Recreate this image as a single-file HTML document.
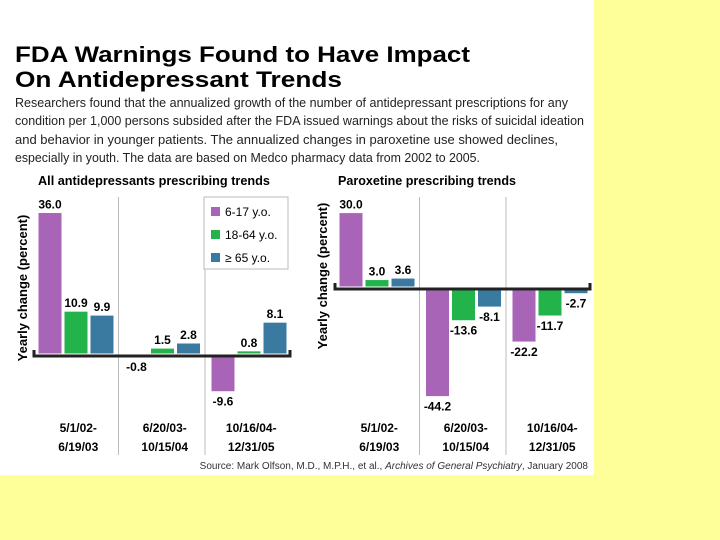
<!DOCTYPE html>
<html><head><meta charset="utf-8"><style>
html,body{margin:0;padding:0;background:#ffff99;width:720px;height:540px;overflow:hidden}
svg{display:block;font-family:"Liberation Sans",sans-serif}
</style></head><body>
<svg id="s" width="720" height="540" xmlns="http://www.w3.org/2000/svg">
<rect x="0" y="0" width="594" height="475" fill="#fff"/>
<text x="15" y="62" font-size="22" font-weight="bold" textLength="455" lengthAdjust="spacingAndGlyphs">FDA Warnings Found to Have Impact</text>
<text x="15" y="87" font-size="22" font-weight="bold" textLength="327" lengthAdjust="spacingAndGlyphs">On Antidepressant Trends</text>
<g font-size="13" fill="#222">
<text x="15" y="107" textLength="553" lengthAdjust="spacingAndGlyphs">Researchers found that the annualized growth of the number of antidepressant prescriptions for any</text>
<text x="15" y="125" textLength="569" lengthAdjust="spacingAndGlyphs">condition per 1,000 persons subsided after the FDA issued warnings about the risks of suicidal ideation</text>
<text x="15" y="144" textLength="543" lengthAdjust="spacingAndGlyphs">and behavior in younger patients. The annualized changes in paroxetine use showed declines,</text>
<text x="15" y="162" textLength="465" lengthAdjust="spacingAndGlyphs">especially in youth. The data are based on Medco pharmacy data from 2002 to 2005.</text>
</g>
<text x="38" y="185" font-size="13" font-weight="bold" textLength="232" lengthAdjust="spacingAndGlyphs">All antidepressants prescribing trends</text>
<text x="338" y="185" font-size="13" font-weight="bold" textLength="178" lengthAdjust="spacingAndGlyphs">Paroxetine prescribing trends</text>
<text transform="translate(27,288) rotate(-90)" text-anchor="middle" font-size="13" font-weight="bold">Yearly change (percent)</text>
<text transform="translate(327,276) rotate(-90)" text-anchor="middle" font-size="13" font-weight="bold">Yearly change (percent)</text>
<text x="588" y="469" text-anchor="end" font-size="10" fill="#333">Source: Mark Olfson, M.D., M.P.H., et al., <tspan font-style="italic">Archives of General Psychiatry</tspan>, January 2008</text>
<g id="left"></g>
<g id="right"></g>
<g>
<rect x="204" y="197" width="84" height="72" fill="#fff" stroke="#bbb"/>
<rect x="211" y="207" width="9" height="9" fill="#a865b8"/>
<text x="225" y="216" font-size="12">6-17 y.o.</text>
<rect x="211" y="230" width="9" height="9" fill="#22b34a"/>
<text x="225" y="239" font-size="12">18-64 y.o.</text>
<rect x="211" y="253" width="9" height="9" fill="#3a7aa0"/>
<text x="225" y="262" font-size="12">≥ 65 y.o.</text>
</g>
</svg>
<script>
const categories = ["5/1/02-|6/19/03", "6/20/03-|10/15/04", "10/16/04-|12/31/05"];
const seriesNames = ["6-17", "18-64", "65plus"];
const allYouth = [36.0, -0.8, -9.6];
const allAdult = [10.9, 1.5, 0.8];
const allSenior = [9.9, 2.8, 8.1];
const parYouth = [30.0, -44.2, -22.2];
const parAdult = [3.0, -13.6, -11.7];
const parSenior = [3.6, -8.1, -2.7];
const colors = ["#a865b8", "#22b34a", "#3a7aa0"];
const NS = "http://www.w3.org/2000/svg";
function mk(tag, attrs, parent){const e=document.createElementNS(NS,tag);for(const k in attrs)e.setAttribute(k,attrs[k]);parent.appendChild(e);return e;}
function drawChart(g, prefix, series, x0, groupW, zeroY, pxPerUnit, axisX1, axisX2, sepTop){
  const y = v => zeroY - v*pxPerUnit;
  // separators
  for(let i=1;i<categories.length;i++){
    const sx = x0 + i*groupW - 3;
    const l = mk("line",{x1:sx,x2:sx,y1:sepTop,y2:455,stroke:"#bbb","stroke-width":1},g);
    
    
  }
  categories.forEach((c,ci)=>{
    series.forEach((arr,si)=>{
      const v = arr[ci];
      const bx = x0 + ci*groupW + 3 + si*26;
      const top = Math.min(y(v), zeroY), h = Math.abs(y(v)-zeroY);
      const r = mk("rect",{x:bx,y:top,width:24,height:Math.max(h,1),fill:colors[si],stroke:"#fff","stroke-width":1},g);
      
      
      const ly = v>=0 ? y(v)-4 : y(v)+14;
      const t = mk("text",{x:bx+12,y:ly,"text-anchor":"middle","font-size":12,"font-weight":"bold"},g);
      t.textContent = v.toFixed(1);
      
      
    });
    const parts = c.split("|");
    parts.forEach((p,pi)=>{
      const t = mk("text",{x:x0+ci*groupW+groupW/2,y:432+pi*19,"text-anchor":"middle","font-size":12,"font-weight":"bold"},g);
      t.textContent = p;
      
      
    });
  });
  const ax = mk("path",{d:`M${axisX1} ${zeroY-4} V${zeroY+2} H${axisX2} V${zeroY-4}`,fill:"none",stroke:"#222","stroke-width":3},g);
  
  
}
drawChart(document.getElementById('left'),'left',[allYouth,allAdult,allSenior],35,86.5,354,3.93,34,290,197);
drawChart(document.getElementById('right'),'right',[parYouth,parAdult,parSenior],336,86.5,287,2.48,335,590,197);
</script>
</body></html>
